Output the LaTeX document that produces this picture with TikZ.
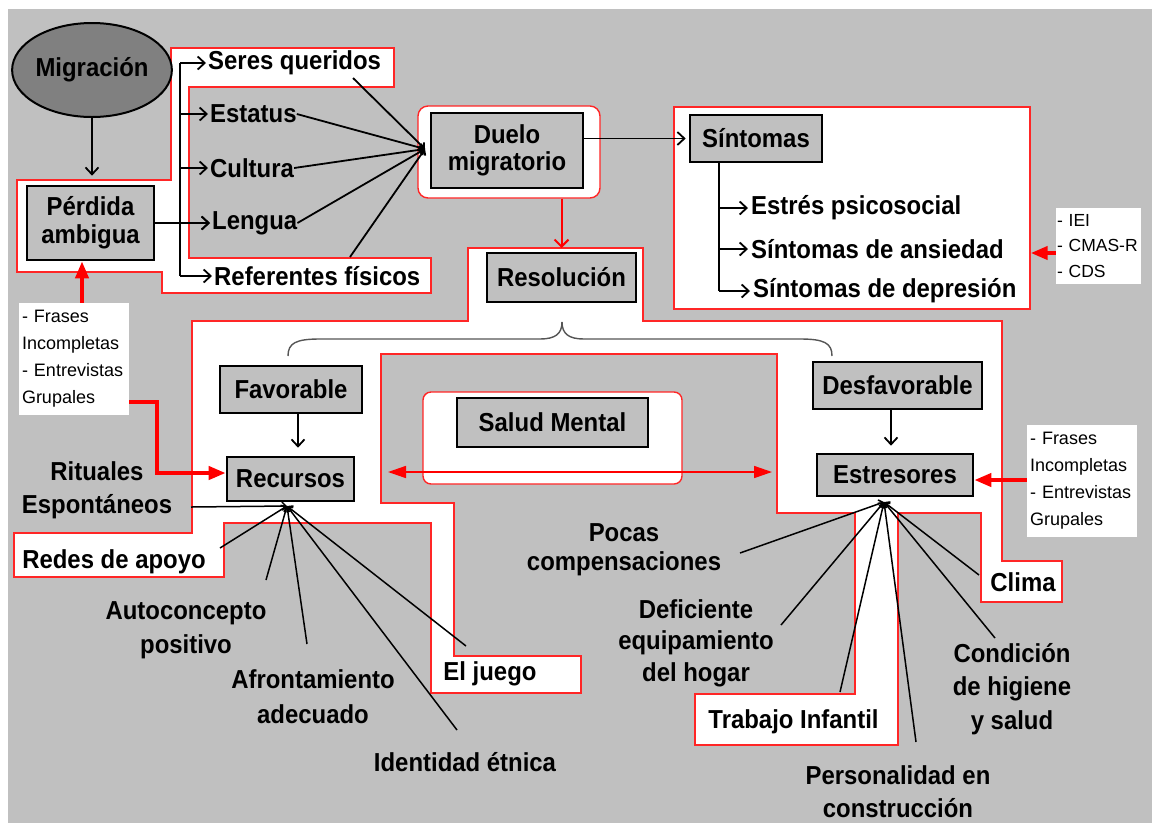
\documentclass[tikz,border=0pt]{standalone}
\usepackage{fontspec}
\setmainfont{Liberation Sans}[FakeStretch=0.92]
\newfontfamily\notefont{Liberation Sans}
\usetikzlibrary{arrows.meta,shapes.geometric,calc}
\definecolor{bggrey}{HTML}{C0C0C0}
\definecolor{ellgrey}{HTML}{808080}
\definecolor{redl}{HTML}{FF2626}
\definecolor{bracegrey}{HTML}{555555}
\tikzset{
 region/.style={draw=redl, fill=white, line width=1.4pt},
 box/.style={draw=black, line width=2.6pt, fill=bggrey, inner sep=0pt, align=center, font=\bfseries\fontsize{26}{28}\selectfont},
 lab/.style={inner sep=0pt, align=center, font=\bfseries\fontsize{26}{33}\selectfont},
 blab/.style={inner sep=0pt, font=\bfseries\fontsize{26}{28}\selectfont},
 note/.style={fill=white, inner xsep=3pt, inner ysep=0pt, align=left, font=\notefont\fontsize{18}{27}\selectfont},
 conn/.style={draw=black, line width=1.8pt},
 barb/.style={-{Straight Barb[length=7pt,width=13pt]}},
 smallbarb/.style={-{Straight Barb[length=4pt,width=8pt]}},
 redthick/.style={draw=red, line width=4pt, -{Triangle[length=17pt,width=13pt]}},
 redthin/.style={draw=red, line width=1.6pt},
 bracestyle/.style={draw=bracegrey, line width=1.4pt},
}
\begin{document}
\begin{tikzpicture}[x=1pt,y=-1pt]
\useasboundingbox (0,0) rectangle (1158,823);
\fill[white] (0,0) rectangle (1158,823);
\fill[bggrey] (8,9) rectangle (1152,823);

% white regions with red outline
\draw[region] (17,180) -- (171,180) -- (171,48) -- (394,48) -- (394,87) -- (189,87) -- (189,258) -- (431,258) -- (431,293) -- (162,293) -- (162,272) -- (17,272) -- cycle;
\node[region, rounded corners=10pt, minimum width=182pt, minimum height=92pt, inner sep=0pt] (dreg) at (509,152) {};
\node[region, minimum width=356pt, minimum height=202pt, inner sep=0pt] (sreg) at (852,208) {};
\draw[region] (468,248) -- (643,248) -- (643,321) -- (1002,321) -- (1002,561) -- (1062,561) -- (1062,602) -- (981,602) -- (981,513) -- (898,513) -- (898,745) -- (695,745) -- (695,694) -- (855,694) -- (855,513) -- (777,513) -- (777,354) -- (381,354) -- (381,503) -- (454,503) -- (454,656) -- (581,656) -- (581,693) -- (431,693) -- (431,523) -- (224,523) -- (224,577) -- (14,577) -- (14,533) -- (192,533) -- (192,321) -- (468,321) -- cycle;
\node[region, rounded corners=8pt, minimum width=259pt, minimum height=92pt, inner sep=0pt] (mreg) at (552.5,438) {};

% brace
\draw[bracestyle] (288,356) .. controls (288,343) and (296,339) .. (320,339) -- (540,339) .. controls (555,339) and (562,334) .. (562,322);
\draw[bracestyle] (832,356) .. controls (832,343) and (824,339) .. (800,339) -- (584,339) .. controls (569,339) and (562,334) .. (562,322);

% boxes
\node[box, ellipse, fill=ellgrey, line width=2pt, minimum width=141pt, minimum height=94pt] (migr) at (92,70) {Migración};
\node[box, minimum width=127pt, minimum height=74pt] (perdida) at (90.5,223) {Pérdida\\ambigua};
\node[box, minimum width=152pt, minimum height=75pt, font=\bfseries\fontsize{26}{27}\selectfont] (duelo) at (507,150.5) {Duelo\\migratorio};
\node[box, minimum width=132pt, minimum height=47pt] (sintomas) at (756,138.5) {Síntomas};
\node[box, minimum width=149pt, minimum height=49pt] (resol) at (561.5,277.5) {Resolución};
\node[box, minimum width=142pt, minimum height=47pt] (favor) at (291,389.5) {Favorable};
\node[box, minimum width=127pt, minimum height=44pt] (recursos) at (290.5,479) {Recursos};
\node[box, minimum width=169pt, minimum height=47pt] (desfav) at (897.5,385.5) {Desfavorable};
\node[box, minimum width=156pt, minimum height=42pt] (estr) at (895,475) {Estresores};
\node[box, minimum width=191pt, minimum height=49pt] (salud) at (552.5,422.5) {Salud Mental};

% notes
\node[note, text width=83pt, inner xsep=1pt, minimum height=76pt, font=\notefont\fontsize{17.5}{25.5}\selectfont] (iei) at (1098.5,246) {- IEI\\- CMAS-R\\- CDS};
\node[note, text width=104pt, minimum height=112pt] (frases1) at (74,359) {- Frases\\Incompletas\\- Entrevistas\\Grupales};
\node[note, text width=104pt, minimum height=112pt] (frases2) at (1082,481) {- Frases\\Incompletas\\- Entrevistas\\Grupales};

% labels
\node[blab, anchor=west] (seres) at (208,63) {Seres queridos};
\node[blab, anchor=west] (estatus) at (210,114) {Estatus};
\node[blab, anchor=west] (cultura) at (210,168) {Cultura};
\node[blab, anchor=west] (lengua) at (212,223) {Lengua};
\node[blab, anchor=west] (referentes) at (214,276) {Referentes físicos};
\node[blab, anchor=west] (estresps) at (751,208) {Estrés psicosocial};
\node[blab, anchor=west] (ansiedad) at (751,249) {Síntomas de ansiedad};
\node[blab, anchor=west] (depresion) at (753,291) {Síntomas de depresión};
\node[lab] (rituales) at (97,490) {Rituales\\Espontáneos};
\node[blab] (redes) at (114,562) {Redes de apoyo};
\node[lab, font=\bfseries\fontsize{26}{34}\selectfont] (autocon) at (186,630) {Autoconcepto\\positivo};
\node[lab, font=\bfseries\fontsize{26}{35}\selectfont] (afront) at (313,697) {Afrontamiento\\adecuado};
\node[lab] (identidad) at (465,762) {Identidad étnica};
\node[blab] (eljuego) at (490,674) {El juego};
\node[lab, font=\bfseries\fontsize{26}{29}\selectfont] (pocas) at (624,550) {Pocas\\compensaciones};
\node[lab, font=\bfseries\fontsize{26}{31.5}\selectfont] (deficiente) at (696,643) {Deficiente\\equipamiento\\del hogar};
\node[blab] (trabajo) at (793.5,722) {Trabajo Infantil};
\node[lab] (personalidad) at (898,792) {Personalidad en\\construcción};
\node[lab, font=\bfseries\fontsize{26}{33.5}\selectfont] (condicion) at (1012,689) {Condición\\de higiene\\y salud};
\node[blab] (clima) at (1023,582) {Clima};

% coordinates
\coordinate (tx) at (180,0);
\coordinate (sx) at (719,0);
\coordinate (dIn) at (425,149);
\coordinate (seresE) at (353,78);
\coordinate (refE) at (350,257);
\coordinate (resTop) at (561.5,248);
\coordinate (saL) at (388,472);
\coordinate (saR) at (772,472);
\coordinate (rC) at (287,506);
\coordinate (espE) at (191,507);
\coordinate (redE) at (220,548);
\coordinate (autoE) at (266,580);
\coordinate (afrE) at (307,644);
\coordinate (idE) at (457,730);
\coordinate (jueE) at (466,646);
\coordinate (eC) at (884,502);
\coordinate (pocE) at (740,553);
\coordinate (defE) at (781,625);
\coordinate (traE) at (840,692);
\coordinate (perE) at (916,742);
\coordinate (conE) at (995,638);
\coordinate (cliE) at (979,575);

% connectors
\draw[conn, barb, shorten >=9pt] (migr.south) -- (migr.south |- perdida.north);
\draw[conn] (tx |- seres.west) -- (tx |- referentes.west);
\foreach \n in {seres,estatus,cultura,lengua,referentes}
  \draw[conn, barb, shorten >=2pt] (tx |- \n.west) -- (\n.west);
\draw[conn, barb, shorten >=2pt] (perdida.east) -- (perdida.east -| lengua.west);
\foreach \p in {seresE,estatus.east,cultura.east,lengua.east,refE}
  \draw[conn, smallbarb] (\p) -- (dIn);
\draw[conn, barb, shorten >=3pt] (duelo.east |- sintomas.west) -- (sintomas.west);
\draw[conn] (sx |- sintomas.south) -- (sx |- depresion.west);
\foreach \n in {estresps,ansiedad,depresion}
  \draw[conn, barb, shorten >=3pt] (sx |- \n.west) -- (\n.west);
\draw[redthick] (iei.west |- 0,253) -- (sreg.east |- 0,253);
\draw[redthin, line width=2pt, -{Straight Barb[length=7pt,width=14pt]}] (dreg.south -| resTop) -- (resTop);
\draw[redthick] (frases1.north -| 82,0) -- (perdida.south -| 82,0);
\draw[redthick] (frases1.east |- 0,402) -- (157,402) -- (157,473) -- (recursos.west |- 0,473);
\draw[conn, barb, shorten >=8pt] ($(favor.south)+(7,0)$) -- ($(recursos.north)+(7.5,0)$);
\draw[conn, barb, shorten >=7pt] ($(desfav.south)+(-6.5,0)$) -- ($(estr.north)+(-4,0)$);
\draw[redthick] (frases2.west |- 0,480) -- (estr.east |- 0,480);
\draw[redthin, {Triangle[length=18pt,width=12pt]}-{Triangle[length=18pt,width=12pt]}] (saL) -- (saR);
\foreach \p in {espE,redE,autoE,afrE,idE,jueE}
  \draw[conn, line width=1.5pt, smallbarb] (\p) -- (rC);
\foreach \p in {pocE,defE,traE,perE,conE,cliE}
  \draw[conn, line width=1.5pt, smallbarb] (\p) -- (eC);
\end{tikzpicture}
\end{document}
